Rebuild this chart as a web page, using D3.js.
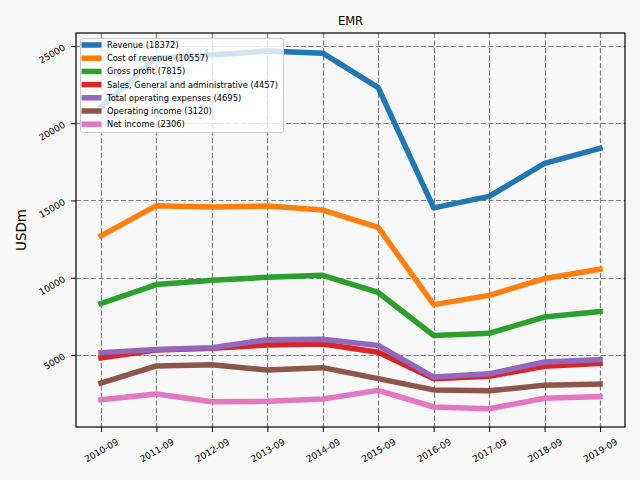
<!DOCTYPE html>
<html>
<head>
<meta charset="utf-8">
<script src="https://cdn.jsdelivr.net/npm/d3@7"></script>
<style>
  body { margin: 0; background: #f8f8f8; }
  svg { font-family: "DejaVu Sans", sans-serif; }
</style>
</head>
<body>
<div id="chart"></div>
<script>
const years = ["2010-09", "2011-09", "2012-09", "2013-09", "2014-09",
  "2015-09", "2016-09", "2017-09", "2018-09", "2019-09"];
const revenue = [21039, 24222, 24412, 24669, 24537, 22304, 14522, 15264, 17408, 18372];
const costOfRevenue = [12713, 14665, 14577, 14643, 14379, 13256, 8260, 8860, 9948, 10557];
const grossProfit = [8326, 9557, 9835, 10026, 10158, 9048, 6262, 6404, 7460, 7815];
const sga = [4817, 5328, 5436, 5648, 5715, 5184, 3464, 3618, 4269, 4457];
const totalOpex = [5150, 5360, 5470, 5990, 6020, 5620, 3570, 3780, 4550, 4695];
const operatingIncome = [3180, 4290, 4370, 4030, 4180, 3470, 2740, 2680, 3050, 3120];
const netIncome = [2098, 2480, 1968, 2004, 2147, 2710, 1635, 1518, 2203, 2306];
const yTicks = [5000, 10000, 15000, 20000, 25000];

const seriesNames = ["Revenue", "Cost of revenue", "Gross profit",
  "Sales, General and administrative", "Total operating expenses",
  "Operating income", "Net income"];
const seriesValues = [revenue, costOfRevenue, grossProfit, sga, totalOpex, operatingIncome, netIncome];
const colors = ["#1f77b4", "#ff7f0e", "#2ca02c", "#d62728", "#9467bd", "#8c564b", "#e377c2"];

const width = 640, height = 480;
const plot = { left: 76, right: 625, top: 33, bottom: 427 };

const svg = d3.select("#chart").append("svg")
  .attr("width", width)
  .attr("height", height);

svg.append("rect").attr("width", width).attr("height", height).attr("fill", "#f8f8f8");

const x = d3.scalePoint()
  .domain(years)
  .range([plot.left, plot.right])
  .padding(0.45);
const y = d3.scaleLinear()
  .domain([340, 25840])
  .range([plot.bottom, plot.top]);

// grid
const grid = svg.append("g").attr("stroke", "#808080").attr("stroke-width", 1.2)
  .attr("stroke-dasharray", "5,2.5");
grid.selectAll(".vg").data(years).join("line")
  .attr("x1", (d) => Math.round(x(d)) + 0.5).attr("x2", (d) => Math.round(x(d)) + 0.5)
  .attr("y1", plot.top).attr("y2", plot.bottom);
grid.selectAll(".hg").data(yTicks).join("line")
  .attr("x1", plot.left).attr("x2", plot.right)
  .attr("y1", (d) => Math.round(y(d)) + 0.5).attr("y2", (d) => Math.round(y(d)) + 0.5);

// lines
const line = d3.line()
  .x((d, i) => x(years[i]))
  .y((d) => y(d));
svg.append("g").selectAll("path")
  .data(seriesValues)
  .join("path")
  .attr("d", (d) => line(d))
  .attr("fill", "none")
  .attr("stroke", (d, i) => colors[i])
  .attr("stroke-width", 5.5)
  .attr("stroke-linejoin", "round")
  .attr("stroke-linecap", "square");

// axes
const xAxis = svg.append("g")
  .attr("transform", "translate(0," + plot.bottom + ")")
  .call(d3.axisBottom(x).tickSize(5).tickSizeOuter(0));
xAxis.select(".domain").remove();
xAxis.selectAll("text")
  .attr("font-size", 9)
  .attr("font-family", "DejaVu Sans")
  .attr("fill", "#000")
  .attr("text-anchor", "middle")
  .attr("dominant-baseline", "central")
  .attr("dy", null)
  .attr("y", 23.5)
  .attr("transform", "rotate(-30,0,23.5)");

const yAxis = svg.append("g")
  .attr("transform", "translate(" + plot.left + ",0)")
  .call(d3.axisLeft(y).tickValues(yTicks).tickSize(5).tickFormat(d3.format("d")));
yAxis.select(".domain").remove();
yAxis.selectAll("text")
  .attr("font-size", 9)
  .attr("font-family", "DejaVu Sans")
  .attr("fill", "#000")
  .attr("text-anchor", "end")
  .attr("dy", null)
  .attr("x", -10)
  .attr("y", 3)
  .attr("transform", "rotate(-30,-10,3)");

// frame
svg.append("rect")
  .attr("x", plot.left).attr("y", plot.top)
  .attr("width", plot.right - plot.left).attr("height", plot.bottom - plot.top)
  .attr("fill", "none").attr("stroke", "#000").attr("stroke-width", 1.2);

// title and y label
svg.append("text")
  .attr("x", (plot.left + plot.right) / 2).attr("y", 25)
  .attr("text-anchor", "middle")
  .attr("font-size", 11.5)
  .text("EMR");
svg.append("text")
  .attr("transform", "translate(26," + (plot.top + plot.bottom) / 2 + ") rotate(-90)")
  .attr("text-anchor", "middle")
  .attr("font-size", 13.5)
  .text("USDm");

// legend
const legend = svg.append("g").attr("transform", "translate(80,38)");
legend.append("rect")
  .attr("x", 0.5).attr("y", 0.5)
  .attr("width", 203).attr("height", 94)
  .attr("rx", 2)
  .attr("fill", "#fff").attr("fill-opacity", 0.8)
  .attr("stroke", "#cccccc");
const items = legend.selectAll(".item")
  .data(seriesNames)
  .join("g")
  .attr("transform", (d, i) => "translate(0," + (7 + i * 13.2) + ")");
items.append("line")
  .attr("x1", 1.5).attr("x2", 21.5)
  .attr("stroke", (d, i) => colors[i])
  .attr("stroke-width", 5.5);
items.append("text")
  .attr("x", 27)
  .attr("dominant-baseline", "central")
  .attr("font-size", 8.3)
  .text((d, i) => d + " (" + seriesValues[i][seriesValues[i].length - 1] + ")");
</script>
</body>
</html>
